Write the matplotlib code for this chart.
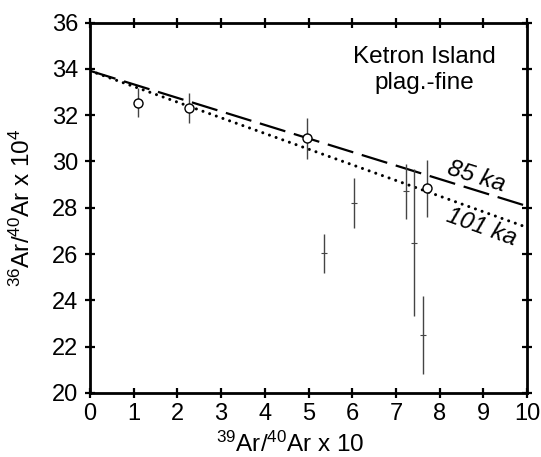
import matplotlib
matplotlib.use("Agg")
import numpy as np
import matplotlib.pyplot as plt

plt.rcParams['font.family'] = ['Liberation Sans', 'DejaVu Sans']
plt.rcParams['mathtext.fontset'] = 'custom'
plt.rcParams['mathtext.rm'] = 'Liberation Sans'
plt.rcParams['mathtext.it'] = 'Liberation Sans:italic'

# plateau steps (open circles)
plat_x = [1.10, 2.26, 4.96, 7.71]
plat_y = [32.54, 32.30, 31.00, 28.84]
plat_err = [0.62, 0.65, 0.89, 1.22]

# other steps (error bars only)
step_x = [5.35, 6.05, 7.23, 7.42, 7.61]
step_y = [26.03, 28.22, 28.72, 26.49, 22.49]
step_err = [0.83, 1.08, 1.19, 3.17, 1.69]

# isochron lines: intercept and slope
iso_b = 33.92
slope_85 = -0.585
slope_101 = -0.677

fig = plt.figure(figsize=(5.41, 4.57), dpi=100)
ax = fig.add_axes([0.1664, 0.1405, 0.8078, 0.8098])

xx = np.array([0, 10])
ax.plot(xx, iso_b + slope_85 * xx, color='black', lw=1.6,
        linestyle=(0, (12, 4)), zorder=2)
ax.plot(xx, iso_b + slope_101 * xx, color='black', lw=2.2,
        linestyle=(0, (0.01, 2.3)), dash_capstyle='round', zorder=2)

ax.errorbar(step_x, step_y, yerr=step_err, fmt='_', color='#444444',
            ms=4, mew=0.8, elinewidth=1.0, capsize=0, zorder=3)
ax.errorbar(plat_x, plat_y, yerr=plat_err, fmt='o', color='#444444',
            mfc='white', mec='black', ms=6.5, mew=1.0,
            elinewidth=1.0, capsize=0, zorder=4)

ax.text(8.83, 29.34, '85 ka', fontsize=17.5, style='italic',
        rotation=-17.3, ha='center', va='center')
ax.text(8.95, 27.15, '101 ka', fontsize=17.5, style='italic',
        rotation=-19.8, ha='center', va='center')
ax.text(7.65, 33.95, 'Ketron Island\nplag.-fine', fontsize=17.5,
        ha='center', va='center', linespacing=1.2)

ax.set_xlim(0, 10)
ax.set_ylim(20, 36)
ax.set_xticks(range(0, 11))
ax.set_yticks(range(20, 37, 2))
ax.tick_params(direction='inout', length=6.5, width=1.6, labelsize=17,
               top=True, right=True, pad=4)
ax.tick_params(axis='y', pad=5)
for s in ax.spines.values():
    s.set_linewidth(2.0)

ax.set_xlabel(r'$^{39}$Ar/$^{40}$Ar x 10', fontsize=17.5)
ax.set_ylabel(r'$^{36}$Ar/$^{40}$Ar x 10$^{4}$', fontsize=17.5)
ax.xaxis.set_label_coords(0.458, -0.105)
ax.yaxis.set_label_coords(-0.126, 0.5)

fig.savefig('out.png', dpi=100)
